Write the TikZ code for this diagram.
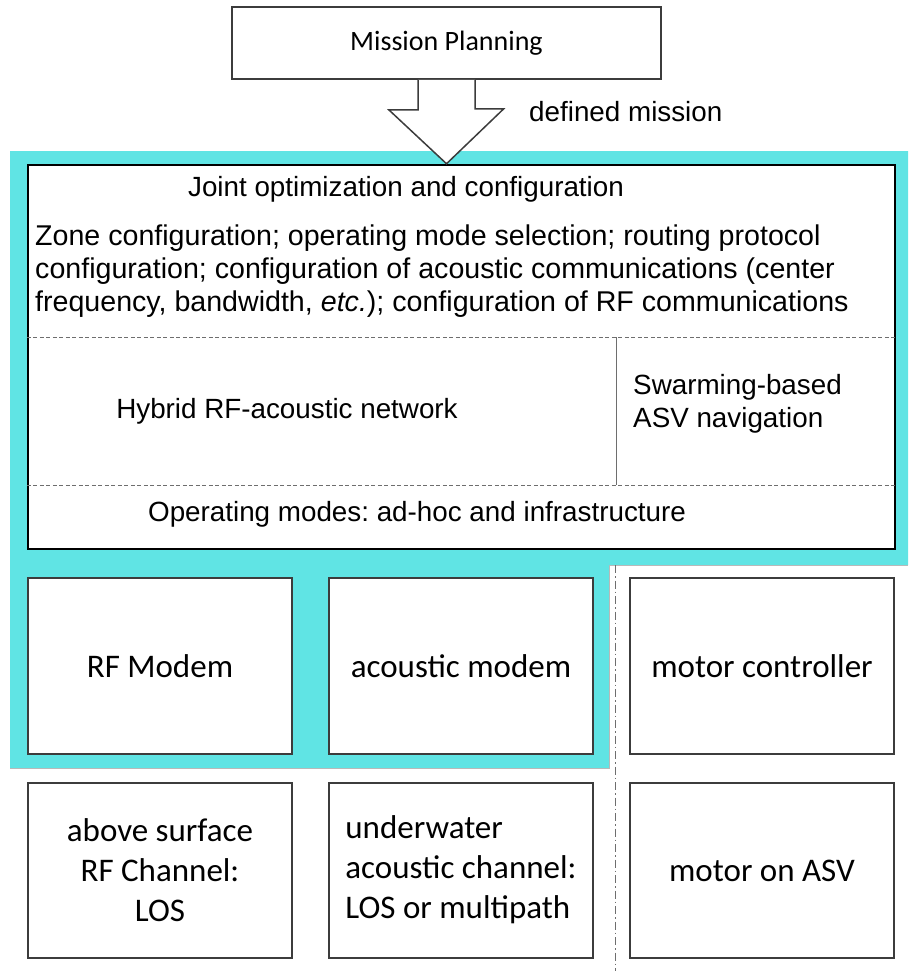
\documentclass[tikz,border=0pt]{standalone}
\usepackage{fontspec}
\setmainfont{Liberation Sans}
\newfontfamily\calibri{Carlito}
\frenchspacing
\definecolor{swim}{RGB}{96,228,228}
\definecolor{boxgray}{RGB}{60,60,60}
\definecolor{rulegray}{RGB}{110,110,110}
\begin{document}
\begin{tikzpicture}[x=1pt,y=-1pt,
  arialtxt/.style={font=\fontsize{27.8}{33}\selectfont, inner sep=0pt, text=black},
  box/.style={draw=boxgray, line width=2pt, inner sep=0pt, fill=white},
  lbox/.style={box, minimum width=264, font=\calibri\fontsize{33}{40}\selectfont, align=center},
  divider/.style={draw=rulegray, line width=0.9pt, dash pattern=on 4pt off 2.5pt}
]
\useasboundingbox (0,0) rectangle (908,971);

% cyan region behind the communication stack
\fill[swim] (10,151) -- (908,151) -- (908,565) -- (609,565) -- (609,768) -- (10,768) -- cycle;
\draw[gray!55, line width=0.8pt] (10,768) -- (609,768) -- (609,565) -- (908,565);

% mission planning
\node[box, minimum width=429, minimum height=72,
      font=\calibri\fontsize{28}{34}\selectfont] (mp) at (446.5,43) {Mission Planning};

% main configuration box
\node[draw=black, line width=2.5pt, fill=white, inner sep=0pt,
      minimum width=867, minimum height=384] (main) at (461.5,357) {};

% block arrow from mission planning into the main box
\coordinate (tip) at (mp.south |- main.north);
\draw[draw=boxgray, line width=1.5pt, fill=white, line join=miter]
  ([xshift=-28.5]mp.south) -- ++(0,30) -- ++(-29,0) -- (tip)
  -- ([xshift=57]mp.south |- 0,109) -- ([xshift=28.5]mp.south |- 0,109)
  -- ([xshift=28.5]mp.south);
\node[arialtxt, anchor=west] (defm) at (529,112) {defined mission};

% inner dividers
\draw[divider] (main.west |- 0,337) -- (main.east |- 0,337);
\draw[divider] (main.west |- 0,485) -- (main.east |- 0,485);
\coordinate (vtop) at (616,337);
\coordinate (vbot) at (616,485);
\draw[draw=rulegray, line width=1pt] (vtop) -- (vbot);

% texts inside the main box
\node[arialtxt] (joint) at (406,189) {Joint optimization and configuration};
\node[arialtxt, font=\fontsize{28.6}{33}\selectfont, anchor=west, align=left] (cfg) at (35,271)
  {Zone configuration; operating mode selection; routing protocol\\
   configuration; configuration of acoustic communications (center\\
   frequency, bandwidth, \textit{etc.}); configuration of RF communications};
\node[arialtxt] (hyb) at (287,411) {Hybrid RF-acoustic network};
\node[arialtxt, anchor=west, align=left] (swarm) at (633,404) {Swarming-based\\ASV navigation};
\node[arialtxt] (modes) at (417,514) {Operating modes: ad-hoc and infrastructure};

% modems and controller
\node[lbox, minimum height=176] (rf) at (160,666) {RF Modem};
\node[lbox, minimum height=176] (ac) at (461,666) {acoustic modem};
\node[lbox, minimum height=176] (mc) at (762,666) {motor controller};

% channels and actuator
\node[lbox, minimum height=175] (above) at (160,870.5) {above surface\\RF Channel:\\LOS};
\node[box, minimum width=264, minimum height=175] (uwbox) at (461,870.5) {};
\node[font=\calibri\fontsize{33}{40}\selectfont, align=left, inner sep=0pt] (uw) at ([yshift=1]uwbox.center)
  {underwater\\acoustic channel:\\LOS or multipath};
\node[lbox, minimum height=175] (mo) at (762,870.5) {motor on ASV};

% separator between communication and navigation hardware
\coordinate (sepTop) at (615.5,565);
\coordinate (sepBot) at (615.5,971);
\draw[draw=rulegray, line width=1pt, dash pattern=on 8pt off 3pt on 1.5pt off 3pt] (sepTop) -- (sepBot);
\end{tikzpicture}
\end{document}
